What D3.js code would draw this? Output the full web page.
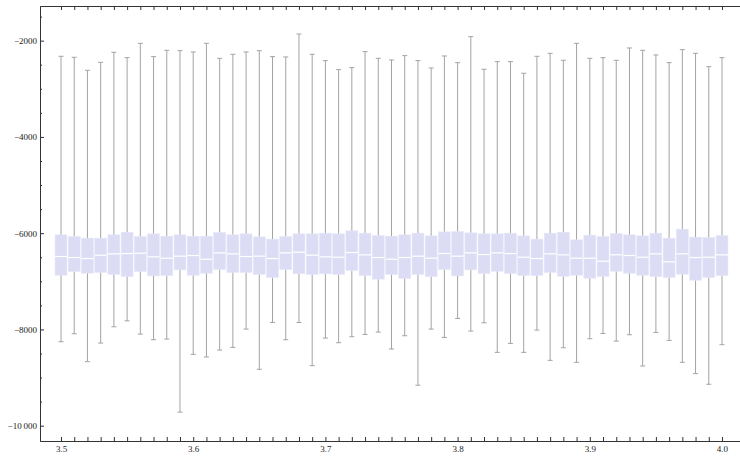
<!DOCTYPE html>
<html>
<head>
<meta charset="utf-8">
<script src="https://cdnjs.cloudflare.com/ajax/libs/d3/7.8.5/d3.min.js"></script>
<style>
body { margin: 0; background: #fff; }
svg { display: block; }
</style>
</head>
<body>
<div id="chart"></div>
<script>
const WIDTH = 740
const HEIGHT = 459

// x positions 3.50 .. 4.00 step 0.01
const xs = d3.range(51).map(i => +(3.5 + i * 0.01).toFixed(2))

const whisker_hi = [-2325, -2346, -2616, -2450, -2242, -2353, -2055, -2332, -2201, -2208,
    -2235, -2055, -2367, -2284, -2235, -2208, -2332, -2339, -1862, -2284,
    -2415, -2602, -2561, -2228, -2367, -2401, -2311, -2415, -2567, -2318,
    -2457, -1917, -2595, -2436, -2436, -2678, -2325, -2263, -2408, -2055,
    -2367, -2353, -2408, -2152, -2201, -2298, -2457, -2187, -2263, -2540, -2353]

const q3 = [-6035, -6070, -6104, -6104, -6035, -5980, -6070, -6014, -6063, -6035,
    -6063, -6063, -5985, -6035, -6014, -6077, -6125, -6070, -6014, -6014,
    -6000, -6014, -5952, -6000, -6049, -6063, -6035, -6000, -6056, -5973,
    -5966, -5994, -6014, -6014, -6000, -6056, -6125, -6000, -5980, -6139,
    -6042, -6070, -6007, -6035, -6056, -6000, -6104, -5917, -6083, -6090, -6049]

const median = [-6485, -6506, -6527, -6458, -6430, -6423, -6416, -6492, -6520, -6478,
    -6465, -6541, -6409, -6430, -6485, -6478, -6527, -6409, -6395, -6457,
    -6492, -6499, -6402, -6450, -6506, -6541, -6506, -6478, -6520, -6423,
    -6478, -6409, -6444, -6409, -6423, -6499, -6527, -6430, -6450, -6520,
    -6520, -6582, -6450, -6464, -6499, -6430, -6596, -6430, -6506, -6499, -6450]

const q1 = [-6873, -6797, -6831, -6817, -6859, -6900, -6797, -6887, -6880, -6762,
    -6873, -6831, -6755, -6817, -6817, -6859, -6921, -6755, -6845, -6859,
    -6845, -6859, -6776, -6880, -6956, -6859, -6942, -6859, -6900, -6755,
    -6887, -6762, -6838, -6790, -6838, -6880, -6880, -6817, -6894, -6873,
    -6935, -6900, -6790, -6831, -6873, -6900, -6921, -6852, -6977, -6921, -6880]

const whisker_lo = [-8255, -8090, -8669, -8283, -7945, -7821, -8097, -8214, -8200, -9718,
    -8518, -8573, -8428, -8373, -7993, -8828, -7855, -8214, -7855, -8752,
    -8179, -8276, -8152, -8104, -8055, -8407, -8131, -9159, -7993, -8166,
    -7772, -8035, -7862, -8476, -8290, -8476, -8014, -8642, -8380, -8683,
    -8193, -8083, -8242, -8110, -8759, -8062, -8228, -8683, -8918, -9139, -8317]

const y_major = [-10000, -8000, -6000, -4000, -2000]
const x_labels = [3.5, 3.6, 3.7, 3.8, 3.9, 4.0]

const boxes = xs.map((x, i) => ({
    x, lo: whisker_lo[i], q1: q1[i], med: median[i], q3: q3[i], hi: whisker_hi[i]
}))

const x = d3.scaleLinear().domain([3.48411, 4.01362]).range([40, 740])
const y = d3.scaleLinear().domain([-10318, -1280]).range([441, 6])

const svg = d3.select("#chart")
    .append("svg")
    .attr("width", WIDTH)
    .attr("height", HEIGHT)

const box_w = x(3.509) - x(3.5)
const cap_w = 5

// whiskers
svg.append("g")
    .selectAll("line")
    .data(boxes)
    .enter()
    .append("line")
    .attr("x1", d => x(d.x))
    .attr("x2", d => x(d.x))
    .attr("y1", d => y(d.hi))
    .attr("y2", d => y(d.lo))
    .style("stroke", "#a3a3a3")
    .style("stroke-width", 1)

const $caps = svg.append("g")
$caps.selectAll(".cap-hi")
    .data(boxes)
    .enter()
    .append("line")
    .attr("class", "cap-hi")
    .attr("x1", d => x(d.x) - cap_w / 2)
    .attr("x2", d => x(d.x) + cap_w / 2)
    .attr("y1", d => y(d.hi))
    .attr("y2", d => y(d.hi))
    .style("stroke", "#a3a3a3")
$caps.selectAll(".cap-lo")
    .data(boxes)
    .enter()
    .append("line")
    .attr("class", "cap-lo")
    .attr("x1", d => x(d.x) - cap_w / 2)
    .attr("x2", d => x(d.x) + cap_w / 2)
    .attr("y1", d => y(d.lo))
    .attr("y2", d => y(d.lo))
    .style("stroke", "#a3a3a3")

// boxes
svg.append("g")
    .selectAll("rect")
    .data(boxes)
    .enter()
    .append("rect")
    .attr("x", d => x(d.x) - box_w / 2)
    .attr("width", box_w)
    .attr("y", d => y(d.q3))
    .attr("height", d => y(d.q1) - y(d.q3))
    .style("fill", "#dcdcf5")
    .style("stroke", "#e6e6f8")
    .style("stroke-width", 0.6)

// medians
svg.append("g")
    .selectAll("line")
    .data(boxes)
    .enter()
    .append("line")
    .attr("x1", d => x(d.x) - box_w / 2)
    .attr("x2", d => x(d.x) + box_w / 2)
    .attr("y1", d => y(d.med))
    .attr("y2", d => y(d.med))
    .style("stroke", "#fff")
    .style("stroke-width", 1.2)

// axes
const fmt_y = v => "\u2212" + (Math.abs(v) >= 10000
    ? d3.format(",")(Math.abs(v)).replace(",", "\u2009")
    : Math.abs(v))

function style_axis($g) {
    $g.selectAll("path, line").style("stroke", "#333")
    $g.selectAll("text")
        .style("font-family", "'Liberation Serif', 'DejaVu Serif', serif")
        .style("font-size", "9px")
        .style("fill", "#222")
}

svg.append("g")
    .attr("transform", "translate(40,0)")
    .call(d3.axisLeft(y)
        .tickValues(d3.range(-10000, -1499, 500).filter(v => !y_major.includes(v)))
        .tickSizeInner(-2).tickSizeOuter(0).tickFormat(""))
    .call(style_axis)

svg.append("g")
    .attr("transform", "translate(40,0)")
    .call(d3.axisLeft(y)
        .tickValues(y_major)
        .tickSizeInner(-4).tickSizeOuter(0).tickPadding(3)
        .tickFormat(fmt_y))
    .call(style_axis)

svg.append("g")
    .attr("transform", "translate(0,441)")
    .call(d3.axisBottom(x)
        .tickValues(xs)
        .tickSizeInner(-4).tickSizeOuter(0).tickPadding(5)
        .tickFormat(v => x_labels.some(l => Math.abs(l - v) < 1e-9) ? d3.format(".1f")(v) : ""))
    .call(style_axis)

svg.append("g")
    .attr("transform", "translate(0,6)")
    .call(d3.axisTop(x)
        .tickValues(xs)
        .tickSizeInner(-4).tickSizeOuter(0).tickFormat(""))
    .call(style_axis)
</script>
</body>
</html>
